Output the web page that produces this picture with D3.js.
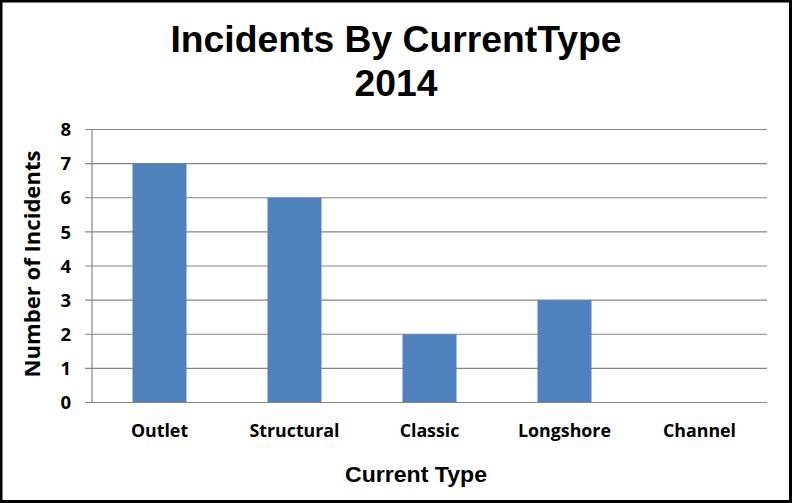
<!DOCTYPE html>
<html>
<head>
<meta charset="utf-8">
<script src="https://cdn.jsdelivr.net/npm/d3@7"></script>
<style>
  html, body { margin: 0; padding: 0; background: #fff; }
  svg { display: block; }
</style>
</head>
<body>
<script>
const categories = ["Outlet", "Structural", "Classic", "Longshore", "Channel"];
const values = [7, 6, 2, 3, 0];
const yTicks = [0, 1, 2, 3, 4, 5, 6, 7, 8];
const titleLines = ["Incidents By CurrentType", "2014"];
const xTitle = "Current Type";
const yTitle = "Number of Incidents";

const W = 792, H = 503;
const svg = d3.select("body").append("svg").attr("width", W).attr("height", H);

svg.append("rect").attr("x", 0).attr("y", 0).attr("width", W).attr("height", H).attr("fill", "#fff");
svg.append("rect").attr("x", 1).attr("y", 1).attr("width", 789.5).attr("height", 500.5)
  .attr("fill", "none").attr("stroke", "#000").attr("stroke-width", 3);

const x = d3.scaleBand().domain(categories).range([92, 767]).paddingInner(0.6).paddingOuter(0.3);
const y = d3.scaleLinear().domain([0, 8]).range([402.5, 129.5]);

// gridlines
svg.append("g").selectAll("line").data(yTicks).join("line")
  .attr("x1", 85).attr("x2", 767)
  .attr("y1", d => y(d)).attr("y2", d => y(d))
  .attr("stroke", "#868686").attr("stroke-width", 1.2);

// y axis line
svg.append("line").attr("x1", 92).attr("x2", 92).attr("y1", y(8)).attr("y2", y(0))
  .attr("stroke", "#868686").attr("stroke-width", 1.2);

// bars
svg.append("g").selectAll("rect").data(values).join("rect")
  .attr("x", (d, i) => x(categories[i]))
  .attr("width", x.bandwidth())
  .attr("y", d => y(d))
  .attr("height", d => y(0) - y(d))
  .attr("fill", "#4F81BD");

// redraw baseline over bars
svg.append("line").attr("x1", 85).attr("x2", 767).attr("y1", y(0)).attr("y2", y(0))
  .attr("stroke", "#868686").attr("stroke-width", 1.2);

// y tick labels
svg.append("g").selectAll("text").data(yTicks).join("text")
  .attr("x", 71).attr("y", d => y(d)).attr("dy", "0.36em")
  .attr("text-anchor", "end")
  .attr("font-family", "'Open Sans', sans-serif").attr("font-weight", "bold").attr("font-size", 18.5)
  .attr("fill", "#000")
  .text(d => d);

// x category labels
svg.append("g").selectAll("text").data(categories).join("text")
  .attr("x", d => x(d) + x.bandwidth() / 2).attr("y", 437)
  .attr("text-anchor", "middle")
  .attr("font-family", "'Open Sans', sans-serif").attr("font-weight", "bold").attr("font-size", 17.8)
  .attr("fill", "#000")
  .text(d => d);

// title
svg.append("g").selectAll("text").data(titleLines).join("text")
  .attr("x", 396).attr("y", (d, i) => 51.7 + i * 44.5)
  .attr("text-anchor", "middle")
  .attr("font-family", "'Liberation Sans', Arial, sans-serif").attr("font-weight", "bold").attr("font-size", 37.3)
  .attr("fill", "#000")
  .text(d => d);

// x axis title
svg.append("text").attr("x", 416).attr("y", 482.3)
  .attr("text-anchor", "middle")
  .attr("font-family", "'Liberation Sans', Arial, sans-serif").attr("font-weight", "bold").attr("font-size", 21.5)
  .attr("textLength", 142).attr("lengthAdjust", "spacingAndGlyphs")
  .attr("fill", "#000")
  .text(xTitle);

// y axis title
svg.append("text")
  .attr("transform", "translate(40,264) rotate(-90)")
  .attr("text-anchor", "middle")
  .attr("font-family", "'Open Sans', sans-serif").attr("font-weight", "bold").attr("font-size", 21.5)
  .attr("textLength", 227).attr("lengthAdjust", "spacingAndGlyphs")
  .attr("fill", "#000")
  .text(yTitle);
</script>
</body>
</html>
